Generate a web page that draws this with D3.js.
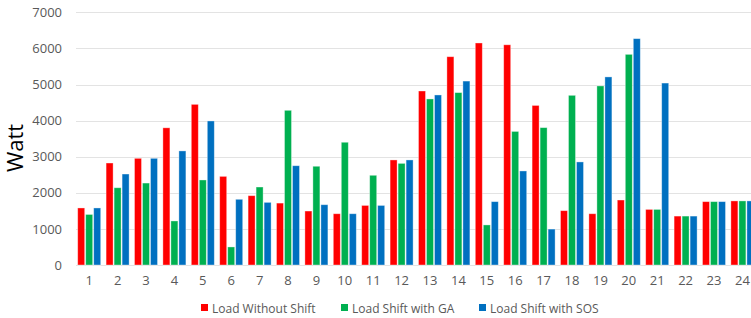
<!DOCTYPE html>
<html><head><meta charset="utf-8">
<script src="https://cdn.jsdelivr.net/npm/d3@7"></script>
<style>
html,body{margin:0;padding:0;background:#fff;overflow:hidden}
svg{display:block}
text{font-family:"Open Sans","Noto Sans",sans-serif}
</style></head>
<body><svg id="c" width="751" height="318"></svg>
<script>
const hours = ["1","2","3","4","5","6","7","8","9","10","11","12","13","14","15","16","17","18","19","20","21","22","23","24"];
const loadWithoutShift = [1580,2825,2955,3800,4450,2455,1920,1715,1495,1420,1650,2910,4820,5770,6150,6100,4420,1505,1420,1800,1540,1355,1755,1775];
const loadShiftGA      = [1400,2140,2270,1220,2355,500,2160,4285,2735,3400,2485,2815,4600,4775,1110,3700,3805,4700,4960,5835,1540,1355,1755,1775];
const loadShiftSOS     = [1580,2520,2955,3160,3990,1820,1735,2750,1670,1420,1650,2910,4710,5095,1755,2605,995,2855,5210,6270,5040,1355,1755,1775];
const seriesNames = ["Load Without Shift","Load Shift with GA","Load Shift with SOS"];
const seriesColors = ["#ff0000","#00b050","#0070c0"];
const yTicks = [0,1000,2000,3000,4000,5000,6000,7000];
const yLabel = "Watt";

const seriesValues = [loadWithoutShift, loadShiftGA, loadShiftSOS];
const svg = d3.select("#c");
const W = 751, H = 318;

const x0 = d3.scaleBand().domain(hours).range([75, 75 + 24*28.4]).paddingInner(0.19).paddingOuter(0.095);
const x1 = d3.scaleBand().domain(d3.range(3)).range([0, x0.bandwidth()]).paddingInner(0.125);
const y = d3.scaleLinear().domain([0,7000]).range([265, 12.3]);

// gridlines
svg.append("g").selectAll("line").data(yTicks).join("line")
  .attr("x1", 76).attr("x2", W)
  .attr("y1", d => Math.round(y(d)) + 0.5).attr("y2", d => Math.round(y(d)) + 0.5)
  .attr("stroke", "#e3e3e3").attr("stroke-width", 1);

// y axis
const ya = svg.append("g").attr("transform", "translate(62,0)")
  .call(d3.axisLeft(y).tickValues(yTicks).tickSize(0).tickPadding(0).tickFormat(d3.format("d")));
ya.select(".domain").remove();
ya.selectAll("text").attr("fill", "#595959").attr("font-size", 13).attr("font-family", "'Open Sans',sans-serif");

// x axis
const xa = svg.append("g").attr("transform", "translate(0,265)")
  .call(d3.axisBottom(x0).tickSize(0).tickPadding(11));
xa.select(".domain").remove();
xa.selectAll("text").attr("fill", "#595959").attr("font-size", 13).attr("font-family", "'Open Sans',sans-serif");

// bars
const groups = svg.append("g").selectAll("g").data(hours).join("g")
  .attr("transform", d => `translate(${x0(d)},0)`);
groups.selectAll("rect").data((d, i) => seriesValues.map((vals, s) => ({s, v: vals[i]}))).join("rect")
  .attr("x", d => x1(d.s)).attr("width", x1.bandwidth())
  .attr("y", d => y(d.v)).attr("height", d => y(0) - y(d.v))
  .attr("fill", d => seriesColors[d.s])
  .attr("stroke", "#ffffff").attr("stroke-opacity", 0.45).attr("stroke-width", 0.8);

// y label
svg.append("text").attr("transform", "translate(23,148) rotate(-90)")
  .attr("text-anchor", "middle").attr("font-size", 22).attr("fill", "#000")
  .attr("font-family", "'Open Sans',sans-serif").text(yLabel);

// legend
const legX = [201, 341, 479];
const leg = svg.append("g").selectAll("g").data(seriesNames).join("g")
  .attr("transform", (d, i) => `translate(${legX[i]},304)`);
leg.append("rect").attr("width", 7).attr("height", 7).attr("fill", (d, i) => seriesColors[i]);
leg.append("text").attr("x", 11).attr("y", 8.5).attr("font-size", 12).attr("fill", "#595959")
  .attr("font-family", "'Open Sans',sans-serif").text(d => d);
</script>
</body></html>
